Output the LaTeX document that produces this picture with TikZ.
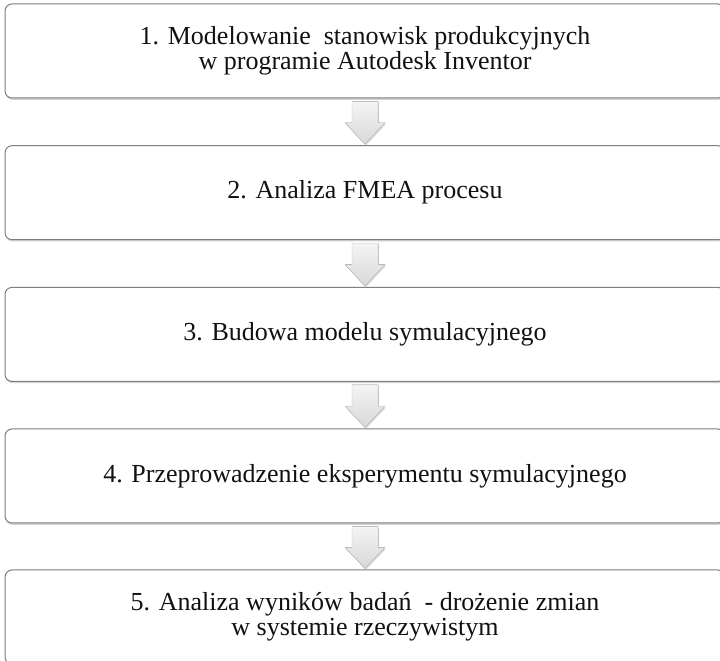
\documentclass[tikz,border=0pt]{standalone}
\usepackage{fontspec}
\setmainfont{Liberation Serif}
\usetikzlibrary{calc, shadows}
\definecolor{edgegray}{HTML}{7F7F7F}
\definecolor{arrtop}{HTML}{F4F4F4}
\definecolor{arrbot}{HTML}{D8D8D8}
\definecolor{txtblack}{HTML}{111111}

\begin{document}
\begin{tikzpicture}[
  x=1pt, y=1pt,
  stagebox/.style={
    draw=edgegray, line width=1pt, fill=white, rounded corners=7pt,
    minimum width=720pt, minimum height=94pt, align=center,
    font=\fontsize{26}{25.5}\selectfont, text=txtblack, inner sep=4pt,
    drop shadow={opacity=0.35, shadow xshift=0.6pt, shadow yshift=-1.8pt}
  },
  blockarr/.style={
    draw=arrbot!90!black, line width=0.3pt, top color=arrtop, bottom color=arrbot,
    drop shadow={opacity=0.25, shadow xshift=1pt, shadow yshift=-1.5pt}
  },
]

% Frame of the page
\clip (0,0) rectangle (720,661);
\fill[white] (0,0) rectangle (720,661);

% Stages
\node[stagebox] (st1) at (365,610)
  {1. Modelowanie\ \ stanowisk produkcyjnych\\
   w programie Autodesk Inventor};

\node[stagebox] (st2) at (365,468.3)
  {2. Analiza FMEA procesu};

\node[stagebox] (st3) at (365,326.6)
  {3. Budowa modelu symulacyjnego};

\node[stagebox] (st4) at (365,185)
  {4. Przeprowadzenie eksperymentu symulacyjnego};

\node[stagebox] (st5) at (365,44)
  {5. Analiza wyników badań\ \ - drożenie zmian\\
   w systemie rzeczywistym};

% Block arrows between stages
\foreach \i/\j in {1/2, 2/3, 3/4, 4/5}{
  \path (st\i.south) ++(0,-3) coordinate (top\i);
  \path ($(st\i.south)!0.52!(st\j.north)$) coordinate (mid\i);
  \filldraw[blockarr]
    (top\i) ++(-13,0) -- ++(26,0) -- (mid\i -| {$(top\i)+(13,0)$})
    -- (mid\i -| {$(top\i)+(20,0)$}) -- ($(st\j.north)+(0,1)$)
    -- (mid\i -| {$(top\i)+(-20,0)$}) -- (mid\i -| {$(top\i)+(-13,0)$})
    -- cycle;
}

\end{tikzpicture}
\end{document}
